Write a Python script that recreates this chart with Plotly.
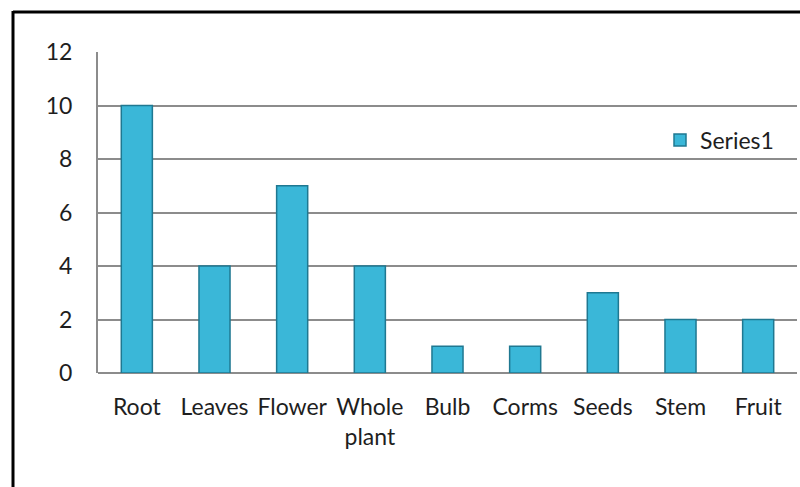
import plotly.graph_objects as go

categories = ["Root", "Leaves", "Flower", "Whole<br>plant", "Bulb", "Corms", "Seeds", "Stem", "Fruit"]
values = [10, 4, 7, 4, 1, 1, 3, 2, 2]
series_name = "Series1"
y_ticks = [0, 2, 4, 6, 8, 10, 12]

W, H = 800, 487
L, R, T, B = 98, 3, 52, 114
pw, ph = W - L - R, H - T - B

def px(x):
    return (x - L) / pw

def py(y):
    return (H - B - y) / ph

fig = go.Figure()
fig.add_trace(go.Bar(
    x=categories, y=values, name=series_name,
    marker=dict(color="#3AB7D8", line=dict(color="#1F7891", width=1.5)),
    showlegend=True,
))

fig.update_layout(
    width=W, height=H,
    margin=dict(l=L, r=R, t=T, b=B),
    paper_bgcolor="white", plot_bgcolor="white",
    font=dict(family="Lato, Carlito, 'Open Sans', sans-serif", size=23, color="#1E1E1E"),
    bargap=0.6,
    showlegend=True,
    legend=dict(x=px(660), y=py(140), xanchor="left", yanchor="middle",
                font=dict(size=23), bgcolor="rgba(0,0,0,0)", itemwidth=30),
    xaxis=dict(showgrid=False, showline=False, ticks="outside", ticklen=13,
               tickcolor="white", tickfont=dict(size=23)),
    yaxis=dict(range=[0, 12], tickvals=y_ticks, showgrid=True, gridcolor="#8C8C8C",
               gridwidth=2, showline=True, linecolor="#8C8C8C", linewidth=2,
               zeroline=True, zerolinecolor="#8C8C8C", zerolinewidth=2,
               ticks="", ticklabelstandoff=19, tickfont=dict(size=23)),
    shapes=[
        dict(type="line", xref="paper", yref="paper", x0=px(13), x1=px(805),
             y0=py(12), y1=py(12), line=dict(color="black", width=3)),
        dict(type="line", xref="paper", yref="paper", x0=px(13), x1=px(13),
             y0=py(495), y1=py(11), line=dict(color="black", width=3)),
    ],
)

fig.write_html("out.html", config={"displayModeBar": False},
               post_script="document.body.style.margin='0px';document.body.style.padding='0px';")
